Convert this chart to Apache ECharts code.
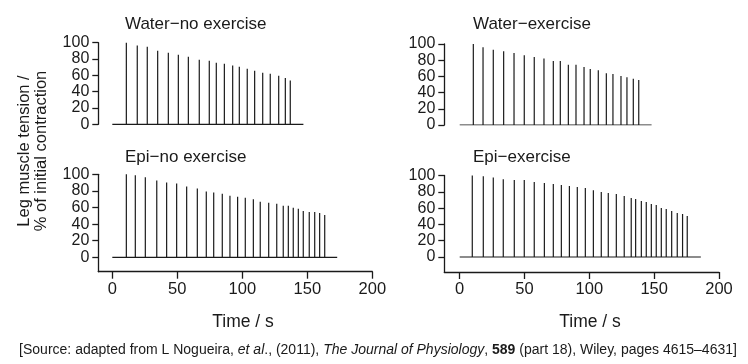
<!DOCTYPE html>
<html>
<head>
<meta charset="utf-8">
<script src="https://cdn.jsdelivr.net/npm/echarts@6/dist/echarts.min.js"></script>
<style>html,body{margin:0;padding:0;background:#fff}#c{width:748px;height:364px}</style>
</head>
<body>
<div id="c"></div>
<script>
// ---- data ----
const panelTitles = ['Water\u2212no exercise', 'Water\u2212exercise', 'Epi\u2212no exercise', 'Epi\u2212exercise'];
const xTickValues = [0, 50, 100, 150, 200];
const yTickValues = [0, 20, 40, 60, 80, 100];

const timesWaterNoEx = [10.8, 19.2, 26.9, 34.9, 43.1, 50.8, 58.5, 66.9, 74.6, 80.0, 86.2, 92.6, 97.7, 103.8, 109.5, 115.7, 121.5, 128.0, 133.1, 136.9];
const tensionWaterNoEx = [100, 96.6, 95, 90.2, 87.6, 85.3, 82.7, 79.2, 78, 75.5, 74.3, 72, 70.6, 68.2, 65.6, 63.3, 62, 59.6, 56.8, 53.8];
const endWaterNoEx = 147;

const timesWaterEx = [10.5, 18.0, 25.9, 33.9, 41.9, 49.8, 57.5, 65.0, 72.2, 77.6, 83.8, 89.7, 95.9, 100.7, 106.9, 113.1, 118.2, 124.4, 129.0, 133.9, 138.1];
const tensionWaterEx = [100, 96, 93, 91, 89, 86, 84, 82, 79, 79, 74.5, 74.5, 71.6, 69, 67.5, 64, 63, 60.5, 59, 57, 55.5];
const endWaterEx = 148;

const timesEpiNoEx = [10.8, 17.7, 25.4, 34.2, 41.8, 49.5, 57.2, 65.4, 72.3, 78.0, 84.6, 90.5, 96.4, 102.3, 108.5, 113.8, 120.3, 126.5, 131.5, 135.4, 139.2, 143.1, 146.9, 151.5, 155.7, 159.5, 163.4];
const tensionEpiNoEx = [100, 98.8, 96.3, 92.6, 90.2, 89, 85.3, 82.9, 79.2, 78, 76.7, 74.3, 73, 71.8, 69.8, 66.9, 65.7, 64.5, 62, 62, 59.6, 58.4, 55.9, 54.7, 54.7, 53.5, 51];
const endEpiNoEx = 173;

const timesEpiEx = [9.7, 18.2, 25.9, 33.6, 42.1, 49.8, 57.5, 65.3, 72.2, 78.4, 84.6, 90.7, 96.9, 103.1, 109.2, 114.6, 120.8, 126.9, 132.3, 135.7, 140.1, 143.9, 147.8, 151.6, 155.5, 159.3, 163.5, 167.8, 171.9, 175.5];
const tensionEpiEx = [100, 99, 97.5, 95.5, 94.4, 94.4, 91.9, 90.7, 89.5, 88.3, 87, 85.8, 84.6, 82, 79.8, 78.6, 77.4, 74.9, 72.4, 71.2, 68.7, 67.5, 65, 63.8, 60.1, 58.8, 56.4, 53.9, 52.7, 50.2];
const endEpiEx = 186;

const yAxisTitleLines = ['Leg muscle tension /', '% of initial contraction'];
const xAxisTitle = 'Time / s';

// ---- build ----
function trace(times, vals, end) {
  const d = [[0, 0]];
  times.forEach((t, i) => { d.push([t, 0], [t, vals[i]], [t, 0]); });
  d.push([end, 0]);
  return d;
}
const FONT = 'Liberation Sans, Arial, sans-serif';
const INK = '#1a1a1a';
const grids = [
  {left: 98.3, top: 42.7, width: 274, height: 81.6},
  {left: 444.3, top: 44, width: 274.7, height: 81},
  {left: 98.3, top: 174.3, width: 274, height: 97.4},
  {left: 444.3, top: 175.5, width: 274.7, height: 96.5}
];
const xMins = [-10.77, -11.88, -10.77, -11.88];
const yMins = [0, 0, -17.35, -18.4];
const traces = [
  trace(timesWaterNoEx, tensionWaterNoEx, endWaterNoEx),
  trace(timesWaterEx, tensionWaterEx, endWaterEx),
  trace(timesEpiNoEx, tensionEpiNoEx, endEpiNoEx),
  trace(timesEpiEx, tensionEpiEx, endEpiEx)
];
const xAxes = grids.map((g, i) => ({
  type: 'value', gridIndex: i, min: xMins[i], max: 200,
  show: i >= 2,
  splitLine: {show: false},
  axisLine: {show: true, onZero: false, lineStyle: {color: INK, width: 1.3}},
  axisTick: {show: true, length: 7, customValues: xTickValues, lineStyle: {color: INK, width: 1.3}},
  axisLabel: {customValues: xTickValues, fontSize: 16.5, fontFamily: FONT, color: INK, margin: 9}
}));
const yAxes = grids.map((g, i) => ({
  type: 'value', gridIndex: i, min: yMins[i], max: 100,
  splitLine: {show: false},
  axisLine: {show: true, onZero: false, lineStyle: {color: INK, width: 1.3}},
  axisTick: {show: true, length: 6, customValues: yTickValues, lineStyle: {color: INK, width: 1.3}},
  axisLabel: {customValues: yTickValues, fontSize: 16, fontFamily: FONT, color: INK, margin: 9}
}));
const series = traces.map((d, i) => ({
  type: 'line', xAxisIndex: i, yAxisIndex: i, data: d, symbol: 'none',
  lineStyle: {color: INK, width: 1.2}, animation: false, silent: true
}));
const txt = (text, x, y, size, extra) => ({type: 'text', x: x, y: y, silent: true,
  style: Object.assign({text: text, fill: INK, font: size + 'px ' + FONT, textVerticalAlign: 'middle'}, extra || {})});
const graphic = [
  txt(panelTitles[0], 125, 24, 17),
  txt(panelTitles[1], 473, 24, 17),
  txt(panelTitles[2], 125, 157, 17),
  txt(panelTitles[3], 473, 157, 17),
  txt(xAxisTitle, 243, 322, 17.5, {textAlign: 'center'}),
  txt(xAxisTitle, 590, 322, 17.5, {textAlign: 'center'}),
  Object.assign(txt(yAxisTitleLines[0], 24, 151, 16.5, {textAlign: 'center'}), {rotation: Math.PI / 2}),
  Object.assign(txt(yAxisTitleLines[1], 41.7, 151, 16.5, {textAlign: 'center'}), {rotation: Math.PI / 2}),
  {type: 'text', x: 378, y: 350, silent: true, style: {
    text: '{n|[Source: adapted from L Nogueira, }{i|et al}{n|., (2011), }{i|The Journal of Physiology}{n|, }{b|589}{n| (part 18), Wiley, pages 4615\u20134631]}',
    textAlign: 'center', textVerticalAlign: 'middle', fill: INK,
    rich: {
      n: {fontSize: 14, fontFamily: FONT, color: INK},
      i: {fontSize: 14, fontFamily: FONT, color: INK, fontStyle: 'italic'},
      b: {fontSize: 14, fontFamily: FONT, color: INK, fontWeight: 'bold'}
    }
  }}
];
const chart = echarts.init(document.getElementById('c'), null, {renderer: 'canvas'});
chart.setOption({
  animation: false,
  backgroundColor: '#fff',
  grid: grids, xAxis: xAxes, yAxis: yAxes, series: series, graphic: graphic
});
</script>
</body>
</html>
